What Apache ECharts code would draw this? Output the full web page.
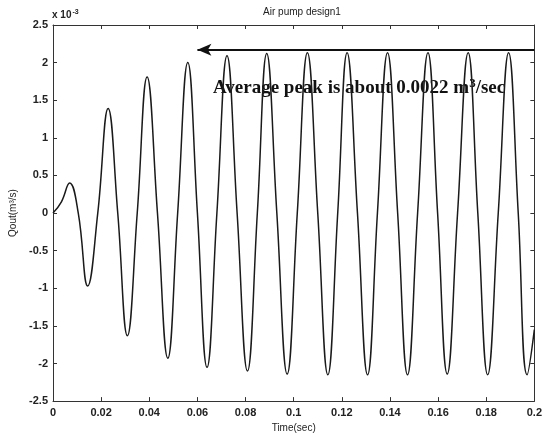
<!DOCTYPE html>
<html>
<head>
<meta charset="utf-8">
<script src="https://cdn.jsdelivr.net/npm/echarts@6/dist/echarts.min.js"></script>
<style>
  html, body { margin: 0; padding: 0; background: #fff; }
  #chart { width: 545px; height: 438px; }
</style>
</head>
<body>
<div id="chart"></div>
<script>
// time (sec) and flow (x 10^-3 m^3/s)
var timeSec = [
  0, 0.0035, 0.0069, 0.0105, 0.0144, 0.0186, 0.0229, 0.0269, 0.0309, 0.0350,
  0.0391, 0.0434, 0.0477, 0.0518, 0.0560, 0.0600, 0.0640, 0.0681, 0.0723, 0.0765,
  0.0808, 0.0849, 0.0888, 0.0930, 0.0973, 0.1015, 0.1057, 0.1100, 0.1142, 0.1183,
  0.1222, 0.1265, 0.1307, 0.1348, 0.1390, 0.1432, 0.1473, 0.1515, 0.1558, 0.1598,
  0.1638, 0.1681, 0.1725, 0.1765, 0.1806, 0.1850, 0.1893, 0.1933, 0.1970, 0.2
];
var qout = [
  0, 0.15, 0.40, 0, -0.97, 0, 1.39, 0, -1.63, 0,
  1.81, 0, -1.93, 0, 2.00, 0, -2.05, 0, 2.09, 0,
  -2.10, 0, 2.12, 0, -2.14, 0, 2.13, 0, -2.15, 0,
  2.13, 0, -2.15, 0, 2.13, 0, -2.15, 0, 2.13, 0,
  -2.14, 0, 2.13, 0, -2.15, 0, 2.13, 0, -2.15, -1.55
];
var xTicks = ['0', '0.02', '0.04', '0.06', '0.08', '0.1', '0.12', '0.14', '0.16', '0.18', '0.2'];
var avgPeak = 2.17;
var arrowFrom = 0.2;
var arrowTo = 0.06;

var points = [];
for (var i = 0; i < timeSec.length; i++) {
  points.push([timeSec[i], qout[i]]);
}

var dom = document.getElementById('chart');
var myChart = echarts.init(dom, null, { renderer: 'canvas' });

var tickFont = { fontFamily: 'Liberation Sans', fontSize: 11, fontWeight: 'bold', color: '#222' };
var frameLine = { show: true, onZero: false, lineStyle: { color: '#333', width: 1 } };
var frameTick = { show: true, inside: true, length: 4, lineStyle: { color: '#333' } };

var option = {
  animation: false,
  backgroundColor: '#fff',
  title: {
    text: 'Air pump design1',
    left: 297,
    textAlign: 'center',
    top: 2,
    textStyle: { fontFamily: 'Liberation Sans', fontSize: 10, fontWeight: 'normal', color: '#222' }
  },
  grid: { left: 52, right: 9, top: 25, bottom: 31 },
  xAxis: [
    {
      type: 'value',
      min: 0, max: 0.2, interval: 0.02,
      name: 'Time(sec)',
      nameLocation: 'middle',
      nameGap: 19,
      nameTextStyle: { fontFamily: 'Liberation Sans', fontSize: 10, color: '#222' },
      axisLine: frameLine,
      axisTick: frameTick,
      axisLabel: Object.assign({ margin: 6, formatter: function (v) {
        return xTicks[Math.round(v / 0.02)];
      } }, tickFont),
      splitLine: { show: false }
    },
    {
      type: 'value',
      position: 'top',
      min: 0, max: 0.2, interval: 0.02,
      axisLine: frameLine,
      axisTick: frameTick,
      axisLabel: { show: false },
      splitLine: { show: false }
    }
  ],
  yAxis: [
    {
      type: 'value',
      min: -2.5, max: 2.5, interval: 0.5,
      name: 'Qout(m³/s)',
      nameLocation: 'middle',
      nameGap: 35,
      nameRotate: 90,
      nameTextStyle: { fontFamily: 'Liberation Sans', fontSize: 10, color: '#222' },
      axisLine: frameLine,
      axisTick: frameTick,
      axisLabel: Object.assign({ margin: 5 }, tickFont),
      splitLine: { show: false }
    },
    {
      type: 'value',
      position: 'right',
      min: -2.5, max: 2.5, interval: 0.5,
      axisLine: frameLine,
      axisTick: frameTick,
      axisLabel: { show: false },
      splitLine: { show: false }
    }
  ],
  series: [
    {
      type: 'line',
      data: points,
      smooth: 0.45,
      symbol: 'none',
      lineStyle: { color: '#1a1a1a', width: 1.5 },
      markLine: {
        silent: true,
        symbol: ['none', 'arrow'],
        symbolSize: [9, 14],
        label: { show: false },
        lineStyle: { color: '#111', width: 2, type: 'solid' },
        data: [[{ coord: [arrowFrom, avgPeak] }, { coord: [arrowTo, avgPeak] }]]
      }
    }
  ],
  graphic: [
    {
      type: 'text',
      left: 52, top: 9,
      style: {
        text: 'x 10{s|-3}',
        font: 'bold 10px "Liberation Sans"',
        fill: '#222',
        rich: { s: { fontSize: 7, fontWeight: 'bold', verticalAlign: 'top', padding: [0, 0, 6, 1] } }
      }
    },
    {
      type: 'text',
      left: 213, top: 77,
      style: {
        text: 'Average peak is about 0.0022 m{s|3}/sec',
        font: 'bold 19px "Liberation Serif"',
        fill: '#111',
        rich: { s: { fontSize: 13, fontWeight: 'bold', fontFamily: 'Liberation Serif', padding: [0, 0, 10, 0] } }
      }
    }
  ]
};

if (option && typeof option === 'object') {
  myChart.setOption(option);
}
window.addEventListener('resize', myChart.resize);
</script>
</body>
</html>
